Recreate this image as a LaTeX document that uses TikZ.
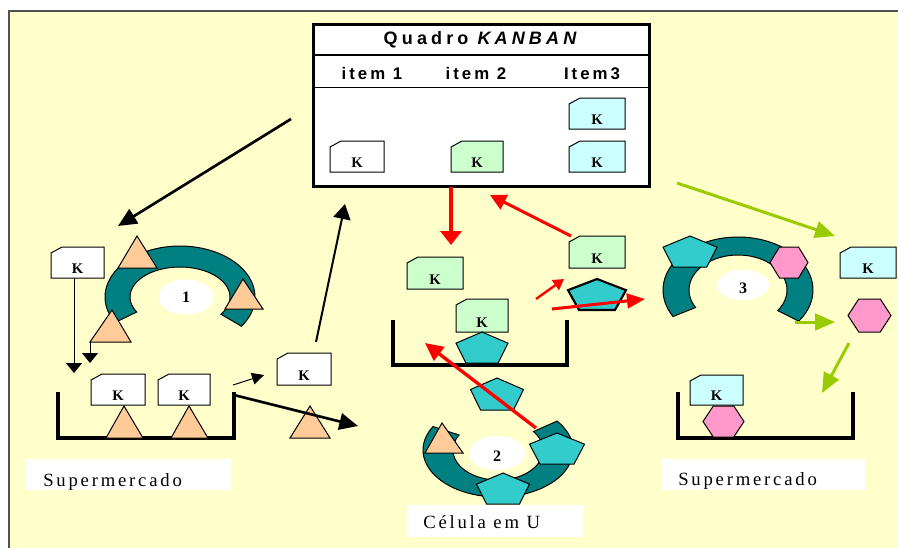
\documentclass[tikz,border=0pt]{standalone}
\usepackage{fontspec}
\setmainfont{Liberation Serif}
\newfontfamily\titlefont[LetterSpace=23]{Liberation Sans}
\newfontfamily\headfont[LetterSpace=18]{Liberation Sans}
\newfontfamily\labelfont[LetterSpace=15]{Liberation Serif}
\usetikzlibrary{arrows.meta}

\definecolor{bgyellow}{HTML}{FFFFCC}
\definecolor{ringteal}{HTML}{008080}
\definecolor{pentcyan}{HTML}{33CCCC}
\definecolor{peach}{HTML}{FFCC99}
\definecolor{pinkhex}{HTML}{FF99CC}
\definecolor{cardgreen}{HTML}{CCFFCC}
\definecolor{cardcyan}{HTML}{CCFFFF}
\definecolor{limegreen}{HTML}{99CC00}
\definecolor{framegray}{HTML}{505050}

\tikzset{
  outline/.style={draw=black, line width=0.75pt, line join=miter},
  ringpart/.style={outline, fill=ringteal},
  cardpart/.style={outline},
  klabel/.style={inner sep=0pt, font=\fontsize{11}{13}\selectfont\bfseries},
  numlabel/.style={inner sep=0pt, font=\fontsize{12}{14}\selectfont\bfseries},
  bin/.style={draw=black, line width=3pt, line cap=rect},
  labelbox/.style={fill=white, draw=none},
  labeltext/.style={inner sep=0pt, anchor=base west, font=\labelfont\fontsize{14}{16}\selectfont},
  headtext/.style={inner sep=0pt, anchor=base, font=\headfont\bfseries\fontsize{12.6}{15}\selectfont},
  blackbig/.style={draw=black, line width=2pt, -{Triangle[length=14pt,width=12.5pt]}},
  blackthin/.style={draw=black, line width=0.75pt, -{Triangle[length=7.5pt,width=12pt]}},
  blacksmall/.style={draw=black, line width=0.75pt, -{Triangle[length=9pt,width=9pt]}},
  blackmid/.style={draw=black, line width=1.5pt, -{Triangle[length=11.25pt,width=13pt]}},
  redarrow/.style={draw=red, line width=2.25pt, -{Triangle[length=12pt,width=12pt]}},
  limearrow/.style={draw=limegreen, line width=2.25pt, -{Triangle[length=15pt,width=12.5pt]}},
}

% kanban card: name, x1, y1, x2, y2, fill colour
\newcommand\kcard[6]{%
  \filldraw[cardpart, fill=#6] (#2,#3+6) -- (#2+11,#3) -- (#4,#3) -- (#4,#5) -- (#2,#5) -- cycle;
  \node[klabel] (#1) at ({(#2+#4)/2},{#5-9}) {K};
}
% isosceles triangle: apex x, apex y, base left, base right, base y
\newcommand\ptri[5]{%
  \filldraw[outline, fill=peach] (#1,#2) -- (#4,#5) -- (#3,#5) -- cycle;
}
% pentagon: centre x, top y, width, height, extra style
\newcommand\ppent[5]{%
  \filldraw[outline, fill=pentcyan, #5] (#1,#2) -- ({#1+#3/2},{#2+0.36*#4}) -- ({#1+0.31*#3},{#2+#4})
    -- ({#1-0.31*#3},{#2+#4}) -- ({#1-#3/2},{#2+0.36*#4}) -- cycle;
}
% hexagon: centre x, centre y, width, height
\newcommand\phex[4]{%
  \filldraw[outline, fill=pinkhex] ({#1-#3/2},#2) -- ({#1-#3/4},{#2-#4/2}) -- ({#1+#3/4},{#2-#4/2})
    -- ({#1+#3/2},#2) -- ({#1+#3/4},{#2+#4/2}) -- ({#1-#3/4},{#2+#4/2}) -- cycle;
}
% open ring: centre x, centre y, outer radii, inner radii, start and end angle
\newcommand\pring[8]{%
  \filldraw[ringpart] plot[domain=#7:#8, samples=60] ({#1+#3*cos(\x)},{#2-#4*sin(\x)})
    -- plot[domain=#8:#7, samples=60] ({#1+#5*cos(\x)},{#2-#6*sin(\x)}) -- cycle;
}

\begin{document}
\begin{tikzpicture}[x=0.75pt, y=-0.75pt]
\useasboundingbox (0,0) rectangle (898,547);
\begin{scope}
  \clip (0,0) rectangle (898,547);
  \filldraw[fill=bgyellow, draw=framegray, line width=1.3pt] (9,11) rectangle (960,600);
\end{scope}

% ---------- Kanban board ----------
\filldraw[fill=white, draw=black, line width=2.25pt] (313,24) rectangle (649,186);
\draw[line width=1.5pt] (313,55) -- (649,55);
\draw[line width=0.75pt] (313,87) -- (649,87);
\node[inner sep=0pt, anchor=base, font=\titlefont\bfseries\fontsize{13.5}{16}\selectfont] (title) at (480,44) {Quadro \itshape KANBAN};
\node[headtext] (col1) at (372,79) {item 1};
\node[headtext] (col2) at (476,79) {item 2};
\node[headtext] (col3) at (592,79) {Item3};
\kcard{kb1}{330}{141}{384}{172}{white}
\kcard{kb2}{451}{141}{503}{172}{cardgreen}
\kcard{kb3}{569}{98}{625}{129}{cardcyan}
\kcard{kb4}{569}{141}{625}{172}{cardcyan}

% ---------- cell 1 and left supermarket ----------
\pring{180}{297}{75}{51}{50}{30}{-35}{210}
\fill[white] (186,297) ellipse[x radius=27.5, y radius=17.5];
\node[numlabel] (n1) at (186,297) {1};
\ptri{137}{236}{118}{157}{268}
\ptri{243}{279}{225}{263}{309}
\ptri{112}{310}{90}{131}{342}
\kcard{kl1}{51}{247}{104}{278}{white}

\draw[bin] (58,394) -- (58,438) -- (234,438) -- (234,394);
\kcard{kl2}{91}{374}{145}{405}{white}
\kcard{kl3}{158}{374}{210}{405}{white}
\ptri{124}{406}{106}{143}{438}
\ptri{189}{406}{171}{208}{438}
\kcard{kl4}{277}{353}{331}{385}{white}
\ptri{310}{406}{290}{330}{438}

\fill[labelbox] (26,459) rectangle (231,490);
\node[labeltext] (sup1) at (43,486) {Supermercado};

% ---------- cell 2 (U cell) and centre supermarket ----------
\kcard{kc1}{407}{257}{463}{289}{cardgreen}
\kcard{kc2}{569}{236}{625}{268}{cardgreen}
\ppent{597}{279}{58}{31}{line width=1.6pt}
\draw[bin] (393,322) -- (393,365) -- (567,365) -- (567,322);
\kcard{kc3}{456}{299}{508}{332}{cardgreen}
\ppent{482}{332}{52}{31}{}
\ppent{497}{378}{53}{32}{}

\pring{498}{450}{75}{47}{45}{30}{150}{398}
\fill[white] (497,453) ellipse[x radius=28, y radius=17];
\node[numlabel] (n2) at (497,456) {2};
\ptri{442}{423}{425}{463}{453}
\ppent{557}{433}{55}{31}{}
\ppent{503}{473}{53}{31}{}
\fill[labelbox] (407,505) rectangle (583,537);
\node[labeltext] (cell) at (423,528) {Célula em U};

% ---------- cell 3 and right supermarket ----------
\pring{738}{290}{75}{53}{49}{35}{-36}{210}
\fill[white] (743,285) ellipse[x radius=26, y radius=15];
\node[numlabel] (n3) at (743,288) {3};
\ppent{690}{236}{54}{31}{}
\phex{789}{262.5}{38}{31}
\kcard{kr1}{840}{247}{896}{278}{cardcyan}
\phex{869.5}{315.5}{43}{33}
\draw[bin] (678,394) -- (678,438) -- (853,438) -- (853,394);
\kcard{kr2}{690}{375}{743}{405}{cardcyan}
\phex{723.5}{421.5}{41}{31}
\fill[labelbox] (662,459) rectangle (865,490);
\node[labeltext] (sup3) at (678,485) {Supermercado};

% ---------- flow arrows ----------
\coordinate (a1s) at (291,119);  \coordinate (a1e) at (118,226);
\coordinate (a2s) at (74,278);   \coordinate (a2e) at (74,373);
\coordinate (a3s) at (90,342);   \coordinate (a3e) at (90,363);
\coordinate (a4s) at (233,385);  \coordinate (a4e) at (264,375);
\coordinate (a5s) at (234,395);  \coordinate (a5e) at (358,426);
\coordinate (a6s) at (316,342);  \coordinate (a6e) at (345,204);
\coordinate (r1s) at (451,187);  \coordinate (r1e) at (451,245);
\coordinate (r2s) at (571,236);  \coordinate (r2e) at (490,195);
\coordinate (r3s) at (536,299);  \coordinate (r3e) at (564,279);
\coordinate (r4s) at (552,309);  \coordinate (r4e) at (645,299);
\coordinate (r5s) at (536,428);  \coordinate (r5e) at (425,343);
\coordinate (g1s) at (677,183);  \coordinate (g1e) at (835,236);
\coordinate (g2s) at (795,322);  \coordinate (g2e) at (835,322);
\coordinate (g3s) at (849,343);  \coordinate (g3e) at (822,393);

\draw[blackbig] (a1s) -- (a1e);
\draw[blackthin] (a2s) -- (a2e);
\draw[blackthin] (a3s) -- (a3e);
\draw[blacksmall] (a4s) -- (a4e);
\draw[blackbig] (a5s) -- (a5e);
\draw[blackmid] (a6s) -- (a6e);
\draw[redarrow, line width=3pt, -{Triangle[length=10.5pt,width=15.75pt]}] (r1s) -- (r1e);
\draw[redarrow] (r2s) -- (r2e);
\draw[redarrow, line width=1.8pt, -{Triangle[length=8pt,width=9pt]}] (r3s) -- (r3e);
\draw[redarrow, -{Triangle[length=13.5pt,width=11pt]}] (r4s) -- (r4e);
\draw[redarrow, line width=2.5pt, -{Triangle[length=13.5pt,width=12.75pt]}] (r5s) -- (r5e);
\draw[limearrow] (g1s) -- (g1e);
\draw[limearrow] (g2s) -- (g2e);
\draw[limearrow] (g3s) -- (g3e);
\end{tikzpicture}
\end{document}
